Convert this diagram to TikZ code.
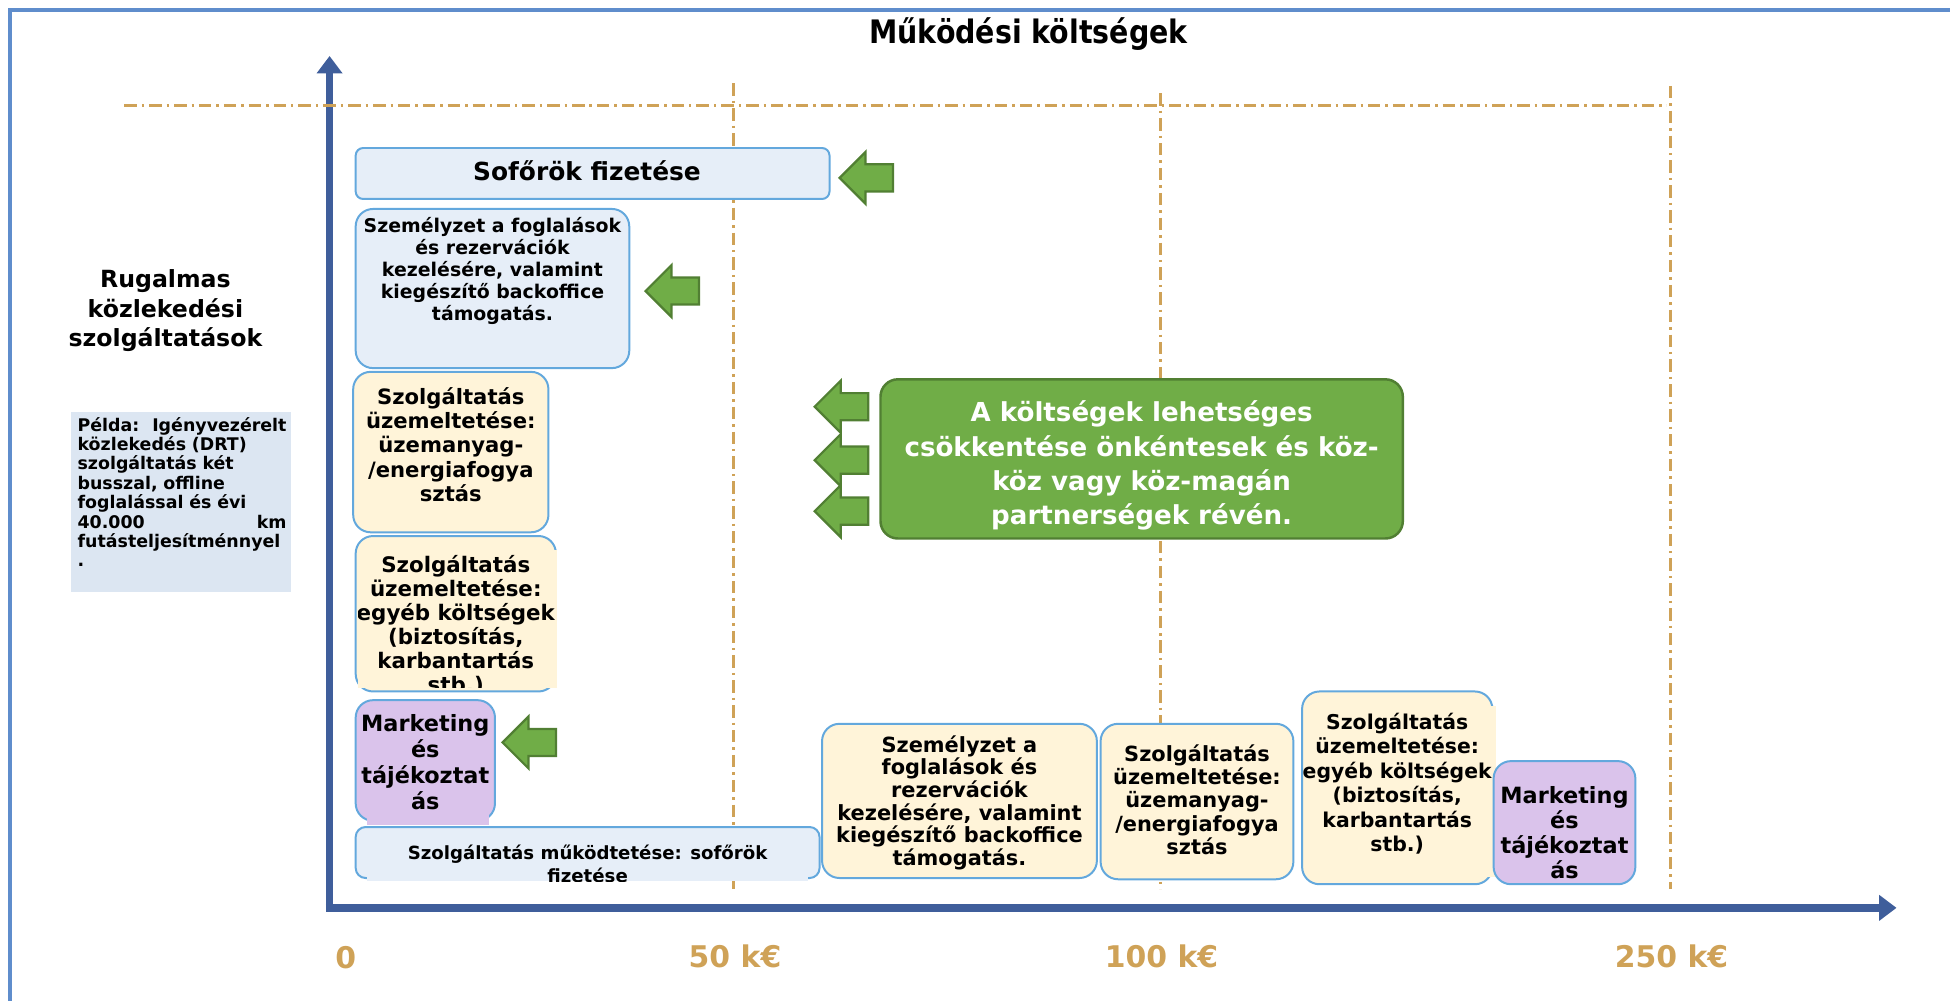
\documentclass[tikz,border=0pt]{standalone}
\usepackage{fontspec}
\setmainfont{DejaVu Sans}
\newfontfamily\keskeny[FakeStretch=0.88]{DejaVu Sans}
\usetikzlibrary{arrows.meta,shapes.arrows}

\definecolor{keret}{HTML}{5F8DCC}
\definecolor{tengely}{HTML}{3F5E9B}
\definecolor{arany}{HTML}{CFA257}
\definecolor{kekkitolt}{HTML}{E6EEF8}
\definecolor{kekvonal}{HTML}{63A8DD}
\definecolor{krem}{HTML}{FFF4D9}
\definecolor{lila}{HTML}{DAC3EB}
\definecolor{zold}{HTML}{70AD47}
\definecolor{zoldvonal}{HTML}{517F33}
\definecolor{peldakek}{HTML}{DCE6F2}

\tikzset{
  meret/.style 2 args={minimum width=#1*0.5pt, minimum height=#2*0.5pt, inner sep=0pt},
  doboz/.style={draw=kekvonal, line width=0.8pt, rounded corners=7pt},
  kekdoboz/.style={doboz, fill=kekkitolt},
  kremdoboz/.style={doboz, fill=krem},
  liladoboz/.style={doboz, fill=lila},
  betu/.style 2 args={font=\bfseries\fontsize{#1}{#2}\selectfont, align=center, inner sep=0pt},
  nyil/.style={single arrow, shape border rotate=180, draw=zoldvonal, fill=zold,
    line width=0.9pt, minimum height=21.5pt, minimum width=20pt,
    single arrow head extend=5pt, inner sep=5pt, anchor=tail},
  szaggatott/.style={arany, line width=1.2pt, dash pattern=on 5pt off 2pt on 1pt off 2pt},
  tengelyvonal/.style={tengely, line width=3pt, -{Triangle[width=10pt,length=7pt]}},
  cimke/.style={text=arany, font=\bfseries\fontsize{12}{14}\selectfont},
}

\begin{document}
\begin{tikzpicture}[x=0.5pt,y=-0.5pt]
    \useasboundingbox (0,0) rectangle (1568,805);

    %Keret
    \draw[keret, line width=1.3pt] (1568,8) -- (8,8) -- (8,805);
    \node[font=\keskeny\bfseries\fontsize{13}{15}\selectfont] (cim) at (827,27) {Működési költségek};

    %Tengelyek
    \coordinate (origo) at (265,730);
    \coordinate (ycsucs) at (265,45);
    \coordinate (xcsucs) at (1525,730);
    \draw[tengelyvonal] ([yshift=-1.5pt]origo) -- (ycsucs);
    \draw[tengelyvonal] ([xshift=-1.5pt]origo) -- (xcsucs);

    %Szaggatott vonalak
    \draw[szaggatott] (100,85) -- (1340,85);
    \node[cimke] (c0) at (278,770) {0};
    \foreach \x/\fel/\ertek in {590/67/50, 933/75/100, 1343/69/250}{
        \draw[szaggatott] (\x,\fel) -- (\x,715);
        \node[cimke] (c\ertek) at (\x+1,769) {\ertek~k€};
    }

    %Bal oldal
    \node[betu={9.5}{11.8}] (rugalmas) at (133,250) {Rugalmas\\közlekedési\\szolgáltatások};
    \node[fill=peldakek, meret={177}{145}] (pelda) at (145.5,403.5) {};
    \node[anchor=north west, text width=84pt, inner sep=0pt, align=left,
          font=\bfseries\fontsize{7}{7.8}\selectfont] (peldaszoveg) at (62,335)
        {Példa:\hfill Igényvezérelt\\közlekedés (DRT)\\szolgáltatás két\\busszal, offline\\foglalással és évi\\40.000\hfill km\\futásteljesítménnyel\\.};

    %Dobozok a tengely mellett
    \node[kekdoboz, meret={381}{41}, rounded corners=3pt] (sofor) at (476.5,139.5) {};
    \node[betu={10}{12}] (soforszoveg) at (472,137) {Sofőrök fizetése};
    \node[kekdoboz, meret={220}{128}] (szemely) at (396,232) {};
    \node[betu={7.6}{8.9}] (szemelyszoveg) at (396,218)
        {Személyzet a foglalások\\és rezervációk\\kezelésére, valamint\\kiegészítő backoffice\\támogatás.};
    \node[kremdoboz, meret={157}{129}] (uzemA) at (362.5,363.5) {};
    \node[betu={8.5}{9.8}] (uzemAszoveg) at (362.5,357.5)
        {Szolgáltatás\\üzemeltetése:\\üzemanyag-\\/energiafogya\\sztás};
    \node[kremdoboz, meret={161}{125}] (egyebA) at (366.5,493.5) {};
    \fill[krem] (288,442) rectangle (448,553);
    \begin{scope}
        \clip (288,442) rectangle (448,553);
        \node[betu={8.6}{9.65}] (egyebAszoveg) at (366.5,502.5)
            {Szolgáltatás\\üzemeltetése:\\egyéb költségek\\(biztosítás,\\karbantartás\\stb.)};
    \end{scope}
    \node[liladoboz, meret={112}{97}] (mktA) at (342,611.5) {};
    \fill[lila] (295,600) rectangle (393,663);
    \node[betu={9}{10.5}] (mktAszoveg) at (342,613) {Marketing\\és\\tájékoztat\\ás};
    \node[kekdoboz, meret={373}{41}, rounded corners=4pt] (mukod) at (472.5,685.5) {};
    \fill[kekkitolt] (295,670) rectangle (650,708.5);
    \begin{scope}
        \clip (295,670) rectangle (650,708.5);
        \node[betu={7.3}{9}] (mukodszoveg) at (472.5,694.5) {Szolgáltatás működtetése: sofőrök\\fizetése};
    \end{scope}

    %Dobozok az x tengely mentén
    \node[kremdoboz, meret={221}{124}] (szemelyB) at (771.5,644) {};
    \node[betu={8.4}{9.1}] (szemelyBszoveg) at (771.5,645.5)
        {Személyzet a\\foglalások és\\rezervációk\\kezelésére, valamint\\kiegészítő backoffice\\támogatás.};
    \node[kremdoboz, meret={155}{125}] (uzemB) at (962.5,644.5) {};
    \node[betu={8.4}{9.4}] (uzemBszoveg) at (962.5,643)
        {Szolgáltatás\\üzemeltetése:\\üzemanyag-\\/energiafogya\\sztás};
    \node[kremdoboz, meret={153}{155}] (egyebB) at (1123.5,633.5) {};
    \fill[krem] (1060,568) rectangle (1203,705);
    \node[betu={8.2}{9.85}] (egyebBszoveg) at (1123.5,630)
        {Szolgáltatás\\üzemeltetése:\\egyéb költségek\\(biztosítás,\\karbantartás\\stb.)};
    \node[liladoboz, meret={114}{99}] (mktB) at (1258,661.5) {};
    \node[betu={9}{10}] (mktBszoveg) at (1258,669.5) {Marketing\\és\\tájékoztat\\ás};

    %Zöld nyilak
    \node[nyil, minimum width=18pt] (ny1) at (719,143) {};
    \node[nyil] (ny2) at (563,234) {};
    \foreach \y [count=\i from 3] in {327,370,411}
        \node[nyil] (ny\i) at (699,\y) {};
    \node[nyil] (ny6) at (448,597) {};

    \node[fill=zold, draw=zoldvonal, line width=1pt, rounded corners=7pt, meret={420}{128}] (csokkentes) at (918,369) {};
    \node[betu={10.5}{13.8}, text=white] (csokkentesszoveg) at (918,374.5)
        {A költségek lehetséges\\csökkentése önkéntesek és köz-\\köz vagy köz-magán\\partnerségek révén.};
\end{tikzpicture}
\end{document}
